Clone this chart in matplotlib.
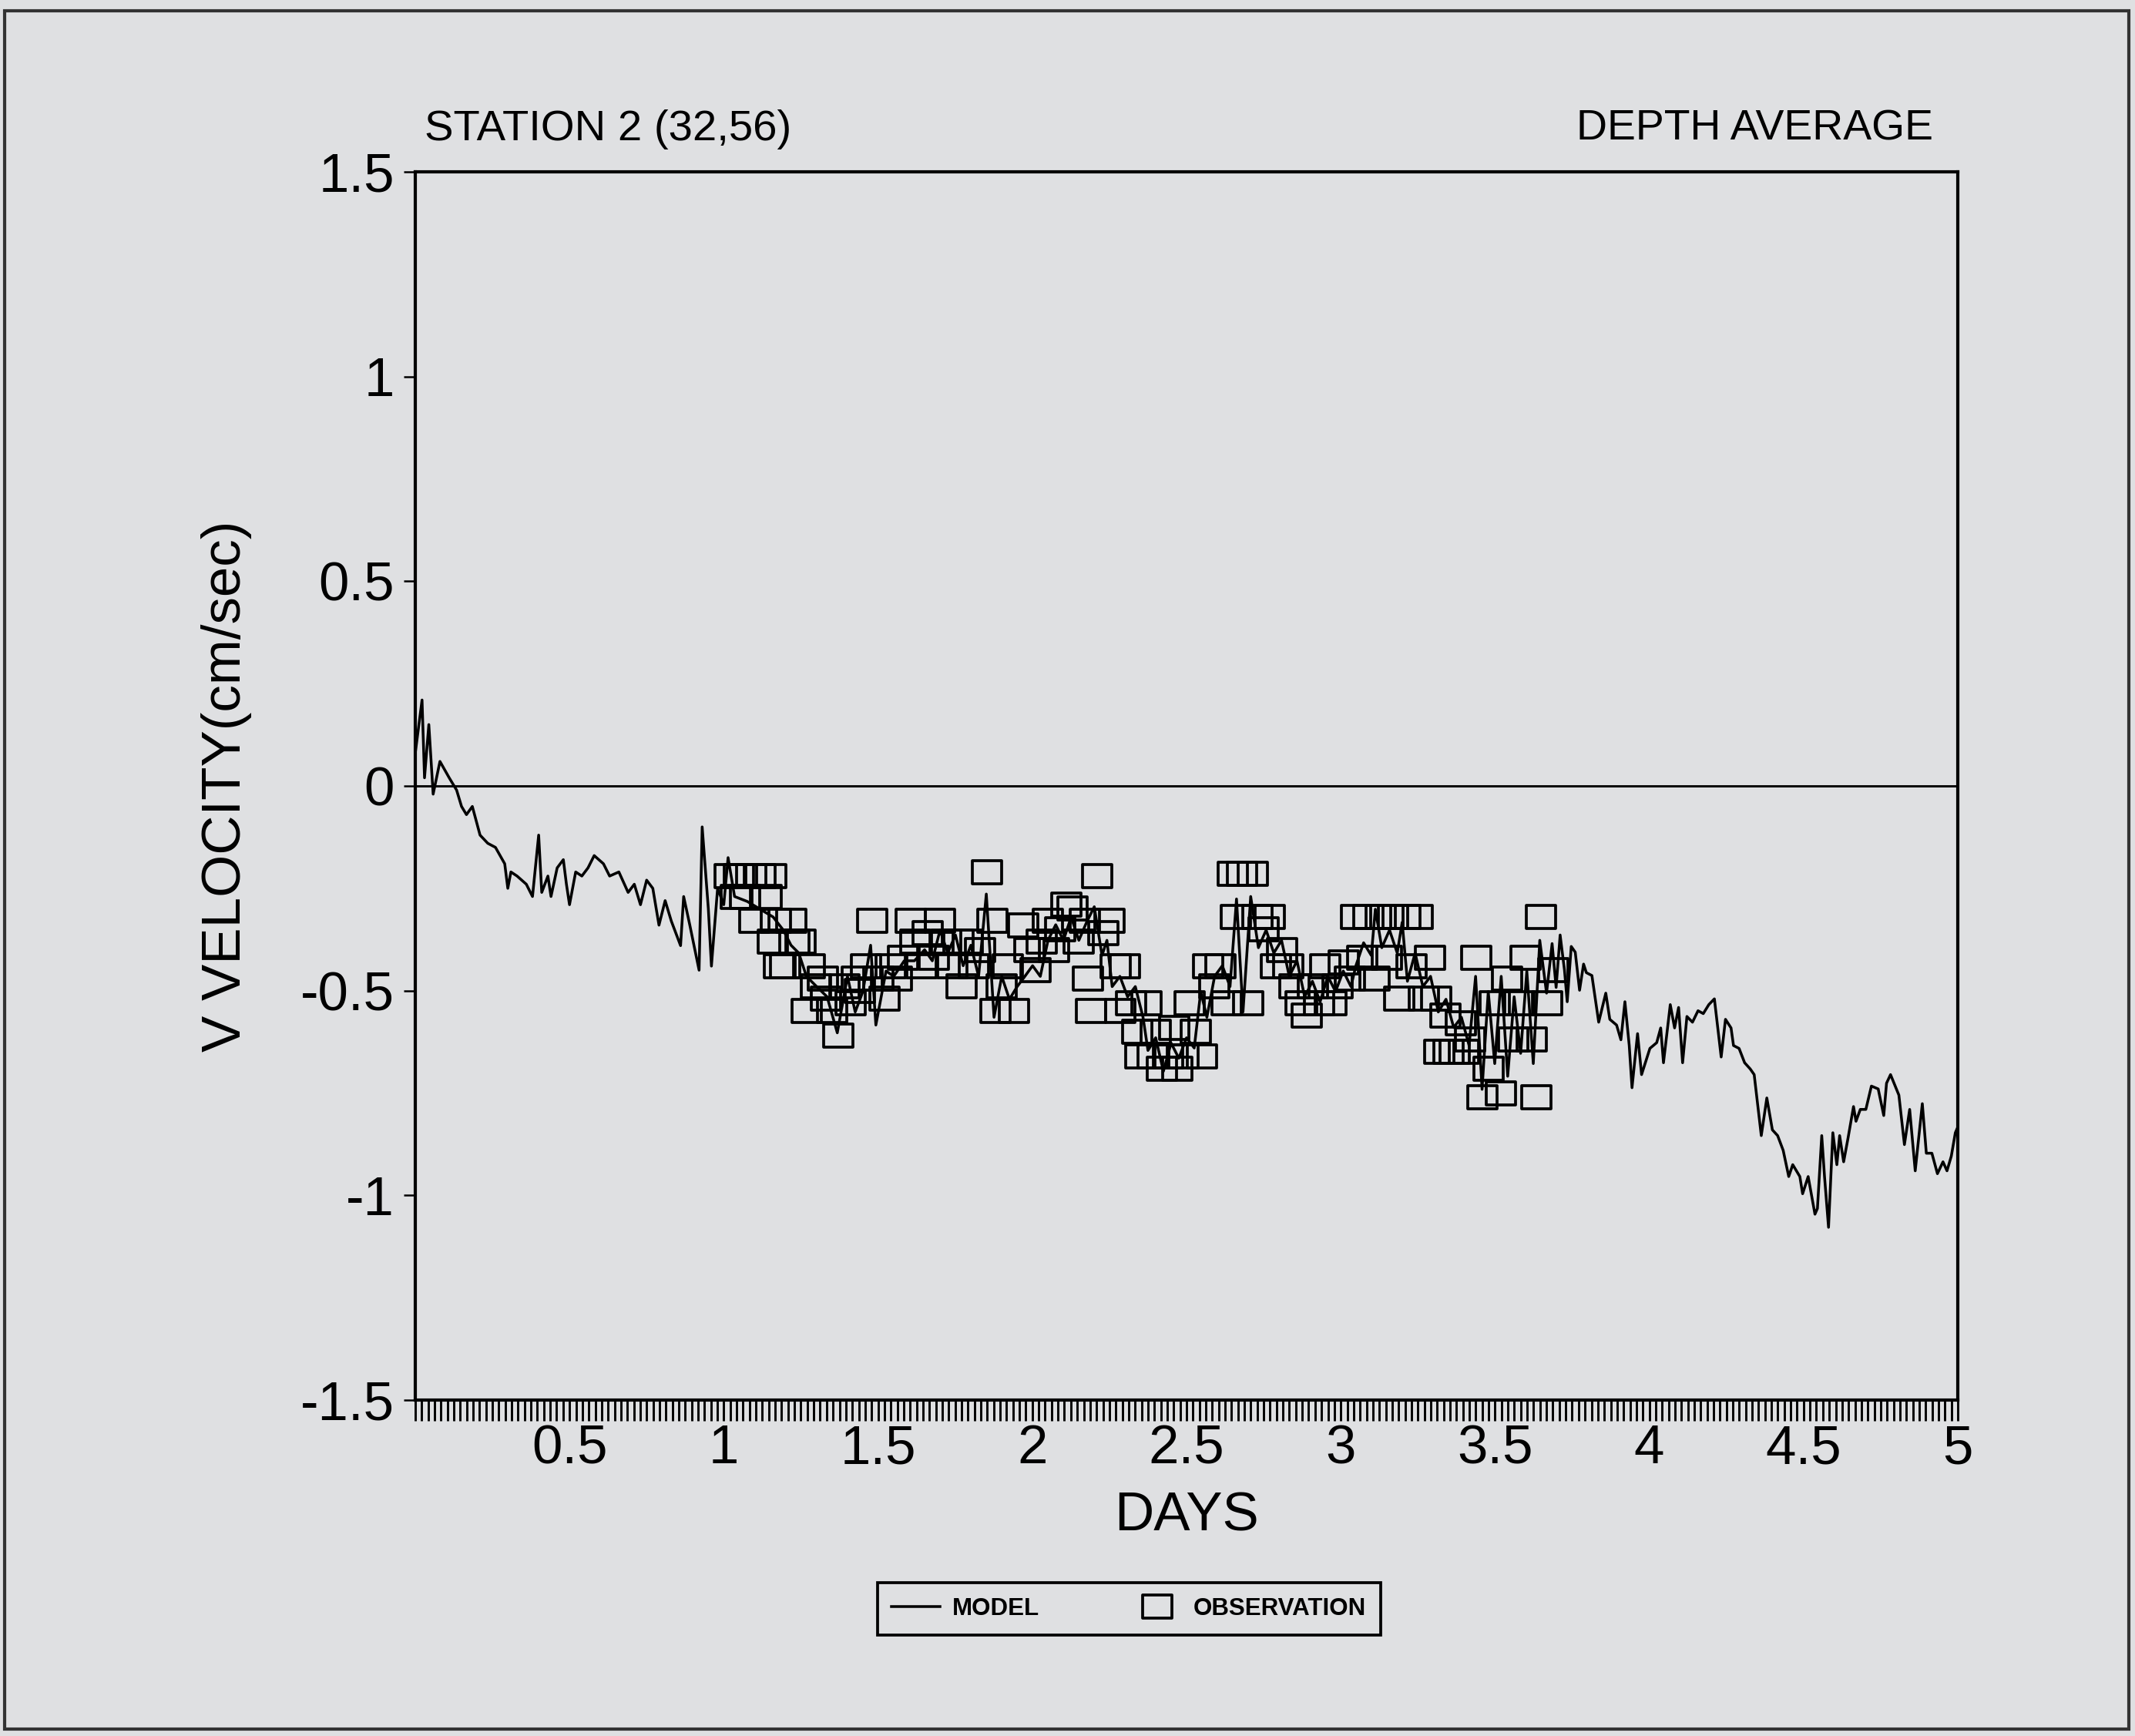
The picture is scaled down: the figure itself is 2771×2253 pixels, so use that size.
import numpy as np
import matplotlib.pyplot as plt
from matplotlib.path import Path
from matplotlib.patches import Rectangle
from matplotlib.ticker import MultipleLocator

plt.rcParams['font.family'] = ['Liberation Sans', 'DejaVu Sans']
plt.rcParams['axes.unicode_minus'] = False

# model, depth averaged V velocity
model_day = [0.0, 0.022, 0.03, 0.044, 0.058, 0.08, 0.11, 0.134, 0.15, 0.166, 0.185, 0.21, 0.235, 0.26,
             0.29, 0.30, 0.31, 0.33, 0.36, 0.38, 0.40, 0.41, 0.43, 0.44, 0.46, 0.48, 0.49, 0.50, 0.52,
             0.54, 0.56, 0.58, 0.61, 0.63, 0.66, 0.69, 0.71, 0.73, 0.75, 0.77, 0.79, 0.81, 0.83, 0.86,
             0.87, 0.89, 0.92, 0.93, 0.95, 0.96, 0.98, 1.00,
             1.014, 1.035, 1.076, 1.118, 1.16, 1.193, 1.218, 1.243, 1.268, 1.301, 1.335, 1.368, 1.401,
             1.426, 1.451, 1.476, 1.493, 1.526, 1.551, 1.585, 1.618, 1.651,
             1.676, 1.701, 1.726, 1.751, 1.776, 1.801, 1.826, 1.851, 1.876, 1.901, 1.926, 1.951, 1.976,
             2.001, 2.026, 2.051, 2.076, 2.101, 2.126, 2.151, 2.176, 2.201, 2.226, 2.242, 2.259, 2.284,
             2.309, 2.334, 2.359,
             2.375, 2.400, 2.425, 2.450, 2.475, 2.500, 2.525, 2.546, 2.566, 2.591, 2.616, 2.641, 2.662,
             2.683, 2.708, 2.733, 2.758, 2.783, 2.808, 2.833, 2.858, 2.883, 2.908, 2.933, 2.958, 2.983,
             3.008, 3.033,
             3.049, 3.074, 3.099, 3.112, 3.133, 3.158, 3.183, 3.199, 3.216, 3.241, 3.266, 3.291, 3.316,
             3.341, 3.366, 3.391, 3.416, 3.437, 3.458, 3.478, 3.499, 3.520, 3.541, 3.562, 3.583, 3.603,
             3.624, 3.645,
             3.667, 3.685, 3.698, 3.711, 3.725, 3.734, 3.747, 3.760, 3.774, 3.787, 3.796, 3.814, 3.836,
             3.859, 3.872, 3.894, 3.908, 3.921, 3.935, 3.944, 3.962, 3.975, 4.002, 4.024, 4.037, 4.046,
             4.068, 4.082, 4.095, 4.108, 4.122, 4.140, 4.158, 4.175, 4.193, 4.211, 4.233, 4.247, 4.265,
             4.273, 4.291, 4.309, 4.327, 4.340, 4.363, 4.381, 4.399, 4.416, 4.434, 4.452, 4.465, 4.488,
             4.497, 4.515, 4.537, 4.545, 4.559, 4.568, 4.581, 4.595, 4.608, 4.617, 4.630, 4.644, 4.662,
             4.670, 4.684, 4.702, 4.720, 4.742, 4.760, 4.769, 4.782, 4.809, 4.827, 4.844, 4.862, 4.885,
             4.898, 4.916, 4.934, 4.952, 4.965, 4.979, 4.992, 5.0]
model_v = [0.08, 0.21, 0.02, 0.15, -0.02, 0.06, 0.02, -0.01, -0.05, -0.07, -0.05, -0.12, -0.14, -0.15,
           -0.19, -0.25, -0.21, -0.22, -0.24, -0.27, -0.12, -0.26, -0.22, -0.27, -0.20, -0.18, -0.24, -0.29,
           -0.21, -0.22, -0.20, -0.17, -0.19, -0.22, -0.21, -0.26, -0.24, -0.29, -0.23, -0.25, -0.34, -0.28,
           -0.33, -0.39, -0.27, -0.34, -0.45, -0.10, -0.30, -0.44, -0.25, -0.29,
           -0.175, -0.27, -0.282, -0.301, -0.32, -0.352, -0.389, -0.408, -0.465, -0.49, -0.515, -0.603,
           -0.465, -0.552, -0.502, -0.389, -0.584, -0.452, -0.465, -0.427, -0.427, -0.40,
           -0.427, -0.352, -0.408, -0.364, -0.439, -0.389, -0.465, -0.264, -0.565, -0.465, -0.521, -0.49,
           -0.465, -0.439, -0.465, -0.377, -0.339, -0.377, -0.32, -0.377, -0.333, -0.295, -0.414, -0.377,
           -0.49, -0.465, -0.515, -0.49, -0.565,
           -0.646, -0.615, -0.697, -0.628, -0.665, -0.615, -0.64, -0.502, -0.565, -0.465, -0.439, -0.49,
           -0.276, -0.552, -0.27, -0.395, -0.352, -0.408, -0.377, -0.465, -0.427, -0.515, -0.477, -0.527,
           -0.465, -0.502, -0.452, -0.49,
           -0.439, -0.383, -0.414, -0.301, -0.395, -0.352, -0.408, -0.333, -0.477, -0.408, -0.49, -0.465,
           -0.552, -0.521, -0.59, -0.565, -0.634, -0.465, -0.741, -0.502, -0.678, -0.465, -0.709, -0.515,
           -0.653, -0.452, -0.678, -0.377,
           -0.506, -0.385, -0.492, -0.364, -0.449, -0.527, -0.392, -0.406, -0.499, -0.435, -0.456, -0.463,
           -0.577, -0.506, -0.57, -0.584, -0.62, -0.527, -0.634, -0.737, -0.605, -0.705, -0.641, -0.627,
           -0.591, -0.676, -0.534, -0.591, -0.541, -0.676, -0.563, -0.577, -0.549, -0.556, -0.534, -0.52,
           -0.662, -0.57, -0.591, -0.634, -0.641, -0.676, -0.691, -0.705, -0.854, -0.762, -0.84, -0.854,
           -0.89, -0.954, -0.925, -0.954, -0.996, -0.954, -1.046, -1.032, -0.854, -0.954, -1.078, -0.847,
           -0.925, -0.854, -0.918, -0.861, -0.783, -0.819, -0.79, -0.79, -0.733, -0.74, -0.805, -0.726,
           -0.705, -0.755, -0.876, -0.79, -0.94, -0.776, -0.897, -0.897, -0.947, -0.918, -0.94, -0.904,
           -0.847, -0.833]

# observations
obs_day = [1.02, 1.04, 1.05, 1.07, 1.09, 1.10, 1.12, 1.14, 1.155, 1.16, 1.17, 1.18, 1.20, 1.22, 1.23,
           1.25, 1.27, 1.28, 1.30, 1.32, 1.33, 1.35, 1.37, 1.39, 1.41, 1.43, 1.44, 1.46, 1.48, 1.50,
           1.52, 1.54, 1.56, 1.58, 1.605, 1.62, 1.64, 1.66, 1.68, 1.70, 1.72, 1.74, 1.76, 1.77, 1.79,
           1.81, 1.83, 1.853, 1.87, 1.88, 1.90, 1.92, 1.94, 1.97, 1.99, 2.01, 2.03, 2.05, 2.07, 2.09,
           2.11, 2.13, 2.15, 2.17, 2.18, 2.19, 2.21, 2.23, 2.25, 2.27, 2.285, 2.30, 2.32, 2.34, 2.35,
           2.37, 2.39, 2.40, 2.42, 2.44, 2.46, 2.47, 2.49, 2.51, 2.53, 2.55, 2.57, 2.59, 2.61, 2.63,
           2.65, 2.66, 2.68, 2.70, 2.715, 2.73, 2.75, 2.77, 2.79, 2.81, 2.83, 2.85, 2.87, 2.89, 2.91,
           2.93, 2.95, 2.97, 2.99, 3.01, 3.03, 3.05, 3.07, 3.09, 3.11, 3.13, 3.15, 3.17, 3.19, 3.21,
           3.23, 3.25, 3.27, 3.29, 3.31, 3.32, 3.34, 3.35, 3.37, 3.39, 3.40, 3.42, 3.44, 3.46, 3.48,
           3.50, 3.52, 3.54, 3.56, 3.58, 3.60, 3.62, 3.633, 3.65, 3.67, 3.69]
obs_v = [-0.22, -0.27, -0.22, -0.27, -0.22, -0.33, -0.22, -0.27, -0.22, -0.38, -0.33, -0.44, -0.44, -0.33,
         -0.38, -0.38, -0.55, -0.44, -0.49, -0.47, -0.52, -0.55, -0.61, -0.49, -0.53, -0.47, -0.50, -0.44,
         -0.33, -0.47, -0.52, -0.44, -0.47, -0.42, -0.33, -0.38, -0.44, -0.36, -0.42, -0.33, -0.38, -0.44,
         -0.38, -0.49, -0.38, -0.44, -0.40, -0.21, -0.33, -0.55, -0.49, -0.44, -0.55, -0.34, -0.40, -0.45,
         -0.38, -0.33, -0.40, -0.35, -0.29, -0.30, -0.38, -0.33, -0.47, -0.55, -0.22, -0.36, -0.33, -0.44,
         -0.55, -0.44, -0.53, -0.60, -0.66, -0.53, -0.66, -0.60, -0.69, -0.66, -0.59, -0.69, -0.66, -0.53,
         -0.60, -0.66, -0.44, -0.49, -0.44, -0.53, -0.215, -0.32, -0.215, -0.53, -0.215, -0.32, -0.35,
         -0.32, -0.44, -0.40, -0.44, -0.49, -0.53, -0.56, -0.49, -0.53, -0.44, -0.53, -0.49, -0.43, -0.47,
         -0.32, -0.42, -0.32, -0.47, -0.32, -0.42, -0.32, -0.52, -0.32, -0.44, -0.32, -0.52, -0.42, -0.52,
         -0.65, -0.56, -0.65, -0.65, -0.58, -0.65, -0.62, -0.42, -0.76, -0.69, -0.53, -0.75, -0.47, -0.62,
         -0.53, -0.42, -0.62, -0.76, -0.32, -0.53, -0.45]

xtick_vals = [0.5, 1, 1.5, 2, 2.5, 3, 3.5, 4, 4.5, 5]
xtick_labels = ['0.5', '1', '1.5', '2', '2.5', '3', '3.5', '4', '4.5', '5']
ytick_vals = [-1.5, -1, -0.5, 0, 0.5, 1, 1.5]
ytick_labels = ['-1.5', '-1', '-0.5', '0', '0.5', '1', '1.5']

bg = '#dfe0e2'
fig = plt.figure(figsize=(2771 / 300, 2253 / 300), dpi=300)
fig.patch.set_facecolor(bg)
ax = fig.add_axes([0.1945, 0.1935, 0.7225, 0.7075])
ax.set_facecolor(bg)

# flat box marker, a little wider than tall
box = Path([(-1, -0.78), (1, -0.78), (1, 0.78), (-1, 0.78), (-1, -0.78)],
           [Path.MOVETO, Path.LINETO, Path.LINETO, Path.LINETO, Path.CLOSEPOLY])

ax.axhline(0, color='black', lw=0.7)
ax.plot(model_day, model_v, color='black', lw=0.85, label='MODEL')
ax.plot(obs_day, obs_v, ls='none', marker=box, ms=9.3, mfc='none', mec='black', mew=0.9,
        label='OBSERVATION')

ax.set_xlim(0, 5)
ax.set_ylim(-1.5, 1.5)
ax.set_xticks(xtick_vals)
ax.set_xticklabels(xtick_labels)
ax.xaxis.set_minor_locator(MultipleLocator(1 / 48))
ax.set_yticks(ytick_vals)
ax.set_yticklabels(ytick_labels)
ax.tick_params(axis='x', which='both', direction='out', length=6.5, width=0.7, labelsize=17, pad=1)
ax.tick_params(axis='y', direction='out', length=3.5, width=0.6, labelsize=17, pad=3)
for s in ax.spines.values():
    s.set_linewidth(1.0)

ax.set_xlabel('DAYS', fontsize=17)
ax.xaxis.set_label_coords(0.5, -0.074)
ax.set_ylabel('V VELOCITY(cm/sec)', fontsize=17)
ax.yaxis.set_label_coords(-0.106, 0.5)

fig.text(551 / 2771, 1 - 168 / 2253, 'STATION 2 (32,56)', ha='left', va='center', fontsize=13.5)
fig.text(2509 / 2771, 1 - 168 / 2253, 'DEPTH AVERAGE', ha='right', va='center', fontsize=13.3)

leg = fig.legend(loc='center', bbox_to_anchor=(0.5287, 0.0732), ncol=2,
                 prop={'size': 7.5, 'weight': 'bold'}, frameon=True, fancybox=False,
                 edgecolor='black', facecolor=bg, framealpha=1, handlelength=2,
                 handletextpad=0.5, columnspacing=3.9, borderpad=0.6)
leg.get_frame().set_linewidth(0.9)

# scanned page border
fig.add_artist(Rectangle((0.002, 0.004), 0.995, 0.99, transform=fig.transFigure, fill=False,
                         ec='#333333', lw=1.0))

fig.savefig('out.png', dpi=300, facecolor=bg)
